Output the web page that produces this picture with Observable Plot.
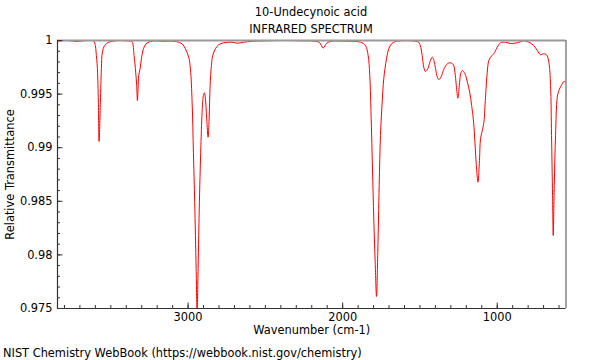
<!DOCTYPE html>
<html>
<head>
<meta charset="utf-8">
<script src="https://cdn.jsdelivr.net/npm/d3@7"></script>
<script src="https://cdn.jsdelivr.net/npm/@observablehq/plot@0.6"></script>
<style>
  html, body { margin: 0; padding: 0; background: #fff; }
  body { font-family: "DejaVu Sans", sans-serif; color: #000; width: 600px; height: 360px; overflow: hidden; }
  #header { height: 38px; padding-top: 4px; box-sizing: border-box; padding-left: 57px; width: 565px; text-align: center; font-size: 11.4px; line-height: 17px; }
  #chart svg { display: block; }
  #caption { padding-left: 3px; padding-top: 8px; font-size: 11.4px; line-height: 14px; }
</style>
</head>
<body>
<div id="header"><div id="t1"></div><div id="t2"></div></div>
<div id="chart"></div>
<div id="caption"></div>
<script>
const titleText = "10-Undecynoic acid";
const subtitleText = "INFRARED SPECTRUM";
const captionText = "NIST Chemistry WebBook (https://webbook.nist.gov/chemistry)";
const xLabel = "Wavenumber (cm-1)";
const yLabel = "Relative Transmittance";

const xDomain = [3845, 555];
const yDomain = [0.975, 1];

const xMajorTicks = [3000, 2000, 1000];
const xTickLabels = ["3000", "2000", "1000"];
const xMinorTicks = d3.range(600, 3900, 100).filter(d => d <= xDomain[0]);
const yMajorTicks = [0.975, 0.98, 0.985, 0.99, 0.995, 1];
const yTickLabels = ["0.975", "0.98", "0.985", "0.99", "0.995", "1"];
const yMinorTicks = d3.range(975, 1001).map(d => d / 1000);

const wavenumber = [3844, 3794, 3749, 3718, 3684, 3645, 3611, 3600, 3595.5, 3587, 3580.6, 3576, 3567.6, 3561, 3554.7, 3539.8, 3513.9, 3470.6, 3438, 3405.8, 3373.5, 3362.5, 3349.5, 3341, 3332.7, 3328, 3323.6, 3319.7, 3310.7, 3302, 3289, 3271.8, 3244, 3211.6, 3166, 3114.6, 3075.7, 3038.8, 3017.5, 2996, 2985, 2974, 2965.7, 2957.3, 2948, 2941.7, 2935.3, 2926.9, 2918.4, 2909.4, 2901, 2894.5, 2888, 2879.6, 2870.6, 2864, 2857.6, 2849.2, 2840.8, 2823.3, 2802, 2769.6, 2715.2, 2682.8, 2640, 2585.8, 2499.7, 2370, 2273, 2176, 2150, 2126, 2104.9, 2079, 2014, 1949.5, 1884.8, 1852.4, 1835, 1824.6, 1815.5, 1807, 1798.7, 1789.6, 1781, 1772.8, 1763.8, 1755.4, 1744.4, 1734, 1716.5, 1701.6, 1684, 1658, 1626, 1550, 1522, 1507.5, 1494.5, 1485.5, 1475, 1464, 1449, 1436, 1420, 1409.6, 1398.7, 1387.6, 1377.2, 1361.5, 1344.4, 1322.4, 1301, 1283.5, 1273.6, 1264.6, 1254.5, 1245, 1236.5, 1225.5, 1208.5, 1193, 1178, 1165.5, 1152.6, 1144.3, 1135, 1124.5, 1115.7, 1107.7, 1096.5, 1086.4, 1075.8, 1064.6, 1054.5, 1038.7, 1022, 1000, 978.7, 946.3, 914, 870.6, 828, 795.5, 763.4, 741, 719.8, 702.3, 680.8, 666, 655, 648.6, 642, 637.6, 631, 622.7, 611.5, 601, 585.6, 568.6, 554.5];

const transmittance = [0.9999, 1.0, 0.99995, 0.9999, 0.99997, 1.0, 0.99995, 0.99953, 0.99891, 0.99739, 0.99424, 0.99058, 0.99424, 0.99739, 0.99891, 0.99953, 0.99984, 0.99997, 1.0, 0.99997, 0.99995, 0.99991, 0.9986, 0.99739, 0.9958, 0.9944, 0.99549, 0.99674, 0.99736, 0.99829, 0.99923, 0.99969, 0.99991, 0.99997, 0.99993, 0.99995, 0.99989, 0.99969, 0.99923, 0.99844, 0.99736, 0.99424, 0.98958, 0.98492, 0.97873, 0.9747, 0.97873, 0.98492, 0.98958, 0.99331, 0.99487, 0.99512, 0.99456, 0.9927, 0.99098, 0.9927, 0.9958, 0.99767, 0.9986, 0.99923, 0.9996, 0.99979, 0.99984, 0.99975, 0.99984, 0.99993, 0.99997, 1.0, 0.99997, 0.99993, 0.99981, 0.9993, 0.99972, 0.99991, 0.99995, 0.99993, 0.99984, 0.99953, 0.9986, 0.99674, 0.9927, 0.98803, 0.98337, 0.97932, 0.97612, 0.98025, 0.98647, 0.99114, 0.99424, 0.99643, 0.99829, 0.99923, 0.99969, 0.99991, 0.99997, 0.99997, 0.99991, 0.99984, 0.99937, 0.9986, 0.99751, 0.99711, 0.99736, 0.99798, 0.99844, 0.99813, 0.99736, 0.99658, 0.99636, 0.99667, 0.99736, 0.99783, 0.99792, 0.99773, 0.99704, 0.9958, 0.99462, 0.9958, 0.99689, 0.9972, 0.99689, 0.99611, 0.99518, 0.99394, 0.99238, 0.99051, 0.98834, 0.98678, 0.98853, 0.99086, 0.9916, 0.99238, 0.99471, 0.99704, 0.99813, 0.99854, 0.99876, 0.99937, 0.99979, 0.99984, 0.99972, 0.99979, 0.99997, 0.99984, 0.99953, 0.99907, 0.99867, 0.99876, 0.99867, 0.99798, 0.9958, 0.99114, 0.98554, 0.98181, 0.98647, 0.99114, 0.99471, 0.99534, 0.9958, 0.99618, 0.99611];

const spectrum = wavenumber.map((w, i) => ({w, t: transmittance[i]}));

document.getElementById("t1").textContent = titleText;
document.getElementById("t2").textContent = subtitleText;
document.getElementById("caption").textContent = captionText;

const axisColor = "#333";
const fs = 11.4;

const chart = Plot.plot({
  width: 600,
  height: 300,
  marginLeft: 57,
  marginRight: 34.5,
  marginTop: 2,
  marginBottom: 30,
  x: {domain: xDomain},
  y: {domain: yDomain},
  style: {fontFamily: "DejaVu Sans, sans-serif", fontSize: fs + "px", color: "#000", background: "#fff", overflow: "visible"},
  marks: [
    Plot.line(spectrum, {x: "w", y: "t", stroke: "#ff0000", strokeWidth: 1, curve: "catmull-rom", clip: true}),
    // frame
    Plot.ruleY([yDomain[1]], {stroke: "#9a9a9a", strokeWidth: 2}),
    Plot.ruleX([xDomain[1]], {stroke: "#666", strokeWidth: 1.2}),
    Plot.ruleX([xDomain[0]], {stroke: axisColor, strokeWidth: 1.2}),
    Plot.ruleY([yDomain[0]], {stroke: axisColor, strokeWidth: 1.2}),
    // y axis ticks (inward) and labels
    Plot.axisY(yMinorTicks, {anchor: "left", tickSize: -3, fill: "none", stroke: axisColor, label: null}),
    Plot.axisY(yMajorTicks, {anchor: "left", tickSize: -5.5, fill: "none", stroke: axisColor, label: null}),
    Plot.axisY(yMajorTicks, {anchor: "left", tickSize: 0, tickPadding: 5, label: null, fill: "#000", fontSize: fs,
      tickFormat: d => yTickLabels[yMajorTicks.indexOf(d)]}),
    // x axis ticks (inward) and labels
    Plot.axisX(xMinorTicks, {anchor: "bottom", tickSize: -3, fill: "none", stroke: axisColor, label: null}),
    Plot.axisX(xMajorTicks, {anchor: "bottom", tickSize: -5.5, fill: "none", stroke: axisColor, label: null}),
    Plot.axisX(xMajorTicks, {anchor: "bottom", tickSize: 0, tickPadding: 4, label: null, fill: "#000", fontSize: fs,
      tickFormat: d => xTickLabels[xMajorTicks.indexOf(d)]}),
    // axis titles
    Plot.text([xLabel], {frameAnchor: "bottom", dy: 25, fill: "#000", fontSize: fs}),
    Plot.text([yLabel], {frameAnchor: "left", dx: -47, rotate: -90, textAnchor: "middle", fill: "#000", fontSize: fs})
  ]
});
document.getElementById("chart").appendChild(chart);
</script>
</body>
</html>
